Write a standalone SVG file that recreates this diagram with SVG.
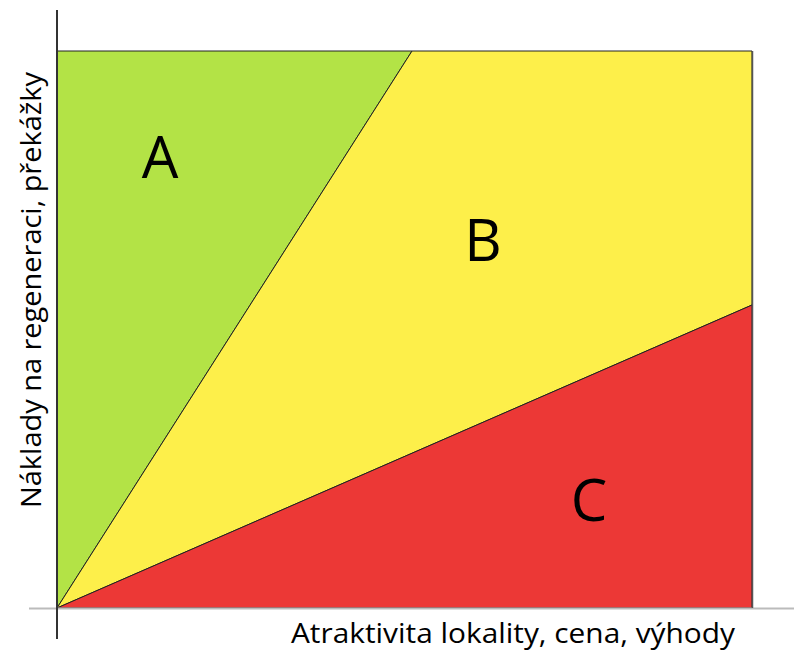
<svg xmlns="http://www.w3.org/2000/svg" width="794" height="651" viewBox="0 0 794 651">
<style>
.region{stroke:#222;stroke-width:1}
.lbl{font-family:"Open Sans","Liberation Sans",sans-serif;fill:#000}
.big{font-size:58px;text-anchor:middle}
.ax{font-size:27px}
</style>
<rect width="794" height="651" fill="#fff"/>
<g id="region-A"><polygon class="region" points="57,51 412,51 57,608" fill="#b3e346"/><text class="lbl big" x="160" y="178">A</text></g>
<g id="region-B"><polygon class="region" points="412,51 752,51 752,305 57,608" fill="#fdef4a"/><text class="lbl big" x="483" y="261">B</text></g>
<g id="region-C"><polygon class="region" points="57,608 752,305 752,608" fill="#ec3836"/><text class="lbl big" x="589" y="521">C</text></g>
<g id="connectors">
<line x1="29" y1="608.5" x2="794" y2="608.5" stroke="#bbb" stroke-width="2"/>
<line x1="57" y1="10" x2="57" y2="639" stroke="#333" stroke-width="2"/>
<line x1="752.5" y1="51" x2="752.5" y2="608" stroke="#555" stroke-width="1.5"/>
</g>
<text class="lbl ax" x="291" y="643" textLength="444" lengthAdjust="spacingAndGlyphs">Atraktivita lokality, cena, výhody</text>
<text class="lbl ax" transform="translate(41,508) rotate(-90)" x="0" y="0" textLength="436" lengthAdjust="spacingAndGlyphs">Náklady na regeneraci, překážky</text>
</svg>
